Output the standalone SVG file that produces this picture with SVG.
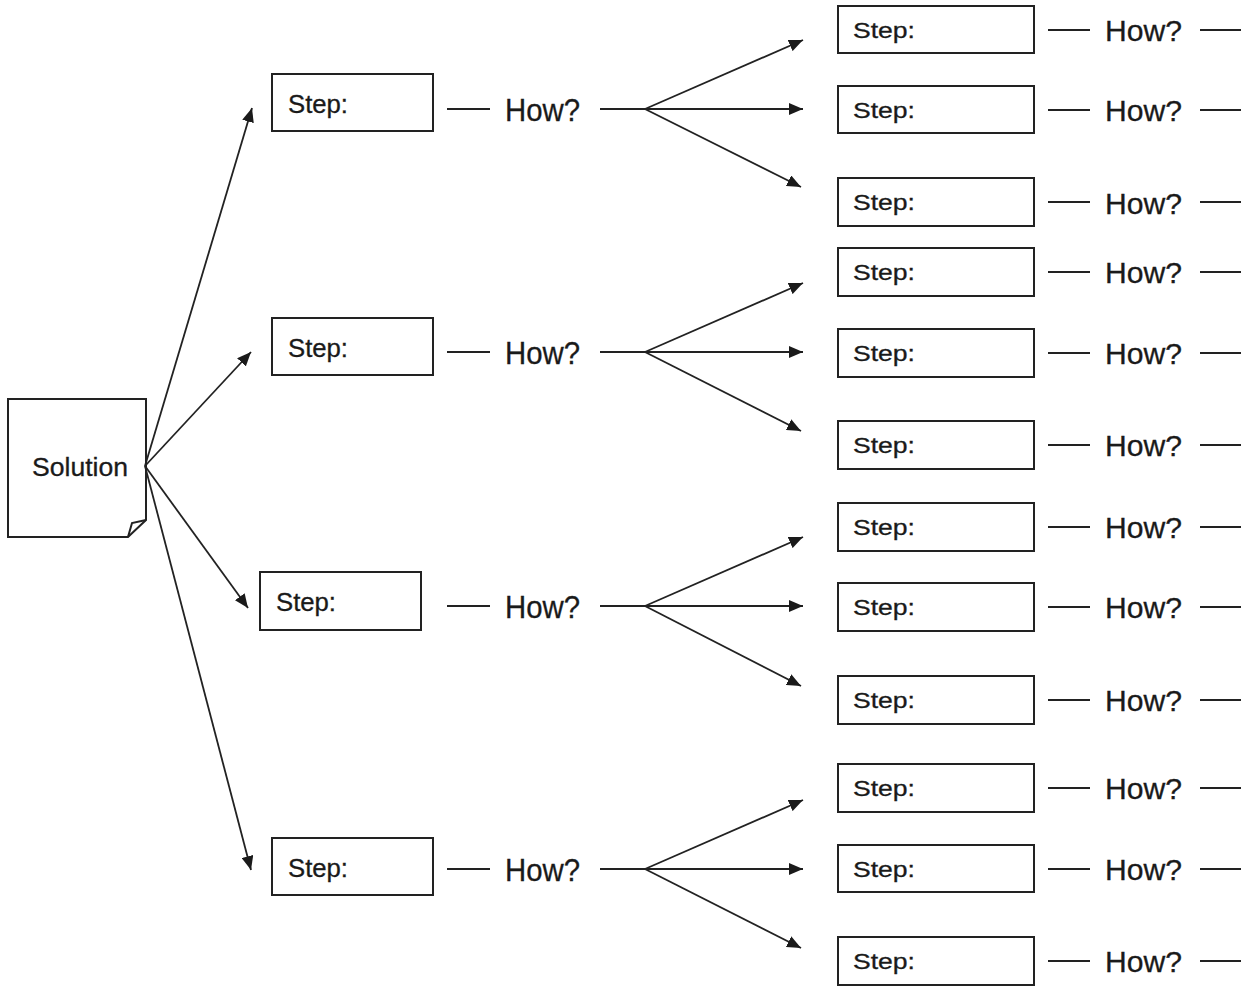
<svg xmlns="http://www.w3.org/2000/svg" width="1245" height="987" viewBox="0 0 1245 987">
<defs>
<style>
.box{fill:#fff;stroke:#222;stroke-width:2}
.ln{stroke:#222;stroke-width:2;fill:none}
.ar{stroke:#222;stroke-width:1.8;fill:none;marker-end:url(#ah)}
.s1{font-family:"Liberation Sans",Arial,sans-serif;font-size:25px;fill:#1a1a1a;stroke:#1a1a1a;stroke-width:0.3}
.s2{font-family:"Liberation Sans",Arial,sans-serif;font-size:22px;fill:#1a1a1a;stroke:#1a1a1a;stroke-width:0.3}
.hw{font-family:"Liberation Sans",Arial,sans-serif;font-size:30px;fill:#1a1a1a;stroke:#1a1a1a;stroke-width:0.3}
.hw1{font-family:"Liberation Sans",Arial,sans-serif;font-size:32px;fill:#1a1a1a;stroke:#1a1a1a;stroke-width:0.3}
.sol{font-family:"Liberation Sans",Arial,sans-serif;font-size:25px;fill:#1a1a1a;stroke:#1a1a1a;stroke-width:0.3}
</style>
<marker id="ah" markerUnits="userSpaceOnUse" markerWidth="14" markerHeight="12" refX="14" refY="6" orient="auto">
<path d="M0,0 L14,6 L0,12 z" fill="#1a1a1a"/>
</marker>
</defs>
<rect width="1245" height="987" fill="#fff"/>

<g id="solution">
<path class="box" d="M8,399 H146 V520 L128,537 H8 Z"/>
<path class="ln" d="M146,520 L132,523 L128,537" stroke-width="1.5"/>
<text class="sol" x="80" y="476" text-anchor="middle" textLength="96" lengthAdjust="spacingAndGlyphs">Solution</text>
</g>

<g id="step1"><rect class="box" x="272" y="74" width="161" height="57"/><text class="s1" x="288" y="113" textLength="60" lengthAdjust="spacingAndGlyphs">Step:</text><text class="hw1" x="505" y="121" textLength="75" lengthAdjust="spacingAndGlyphs">How?</text></g>
<g id="step2"><rect class="box" x="272" y="318" width="161" height="57"/><text class="s1" x="288" y="357" textLength="60" lengthAdjust="spacingAndGlyphs">Step:</text><text class="hw1" x="505" y="364" textLength="75" lengthAdjust="spacingAndGlyphs">How?</text></g>
<g id="step3"><rect class="box" x="260" y="572" width="161" height="58"/><text class="s1" x="276" y="611" textLength="60" lengthAdjust="spacingAndGlyphs">Step:</text><text class="hw1" x="505" y="618" textLength="75" lengthAdjust="spacingAndGlyphs">How?</text></g>
<g id="step4"><rect class="box" x="272" y="838" width="161" height="57"/><text class="s1" x="288" y="877" textLength="60" lengthAdjust="spacingAndGlyphs">Step:</text><text class="hw1" x="505" y="881" textLength="75" lengthAdjust="spacingAndGlyphs">How?</text></g>

<g id="sub1a"><rect class="box" x="838" y="6" width="196" height="47"/><text class="s2" x="853" y="38" textLength="62" lengthAdjust="spacingAndGlyphs">Step:</text><text class="hw" x="1105" y="41" textLength="77" lengthAdjust="spacingAndGlyphs">How?</text></g>
<g id="sub1b"><rect class="box" x="838" y="86" width="196" height="47"/><text class="s2" x="853" y="118" textLength="62" lengthAdjust="spacingAndGlyphs">Step:</text><text class="hw" x="1105" y="121" textLength="77" lengthAdjust="spacingAndGlyphs">How?</text></g>
<g id="sub1c"><rect class="box" x="838" y="178" width="196" height="48"/><text class="s2" x="853" y="210" textLength="62" lengthAdjust="spacingAndGlyphs">Step:</text><text class="hw" x="1105" y="214" textLength="77" lengthAdjust="spacingAndGlyphs">How?</text></g>
<g id="sub2a"><rect class="box" x="838" y="248" width="196" height="48"/><text class="s2" x="853" y="280" textLength="62" lengthAdjust="spacingAndGlyphs">Step:</text><text class="hw" x="1105" y="283" textLength="77" lengthAdjust="spacingAndGlyphs">How?</text></g>
<g id="sub2b"><rect class="box" x="838" y="329" width="196" height="48"/><text class="s2" x="853" y="361" textLength="62" lengthAdjust="spacingAndGlyphs">Step:</text><text class="hw" x="1105" y="364" textLength="77" lengthAdjust="spacingAndGlyphs">How?</text></g>
<g id="sub2c"><rect class="box" x="838" y="421" width="196" height="48"/><text class="s2" x="853" y="453" textLength="62" lengthAdjust="spacingAndGlyphs">Step:</text><text class="hw" x="1105" y="456" textLength="77" lengthAdjust="spacingAndGlyphs">How?</text></g>
<g id="sub3a"><rect class="box" x="838" y="503" width="196" height="48"/><text class="s2" x="853" y="535" textLength="62" lengthAdjust="spacingAndGlyphs">Step:</text><text class="hw" x="1105" y="538" textLength="77" lengthAdjust="spacingAndGlyphs">How?</text></g>
<g id="sub3b"><rect class="box" x="838" y="583" width="196" height="48"/><text class="s2" x="853" y="615" textLength="62" lengthAdjust="spacingAndGlyphs">Step:</text><text class="hw" x="1105" y="618" textLength="77" lengthAdjust="spacingAndGlyphs">How?</text></g>
<g id="sub3c"><rect class="box" x="838" y="676" width="196" height="48"/><text class="s2" x="853" y="708" textLength="62" lengthAdjust="spacingAndGlyphs">Step:</text><text class="hw" x="1105" y="711" textLength="77" lengthAdjust="spacingAndGlyphs">How?</text></g>
<g id="sub4a"><rect class="box" x="838" y="764" width="196" height="48"/><text class="s2" x="853" y="796" textLength="62" lengthAdjust="spacingAndGlyphs">Step:</text><text class="hw" x="1105" y="799" textLength="77" lengthAdjust="spacingAndGlyphs">How?</text></g>
<g id="sub4b"><rect class="box" x="838" y="845" width="196" height="47"/><text class="s2" x="853" y="877" textLength="62" lengthAdjust="spacingAndGlyphs">Step:</text><text class="hw" x="1105" y="880" textLength="77" lengthAdjust="spacingAndGlyphs">How?</text></g>
<g id="sub4c"><rect class="box" x="838" y="937" width="196" height="48"/><text class="s2" x="853" y="969" textLength="62" lengthAdjust="spacingAndGlyphs">Step:</text><text class="hw" x="1105" y="972" textLength="77" lengthAdjust="spacingAndGlyphs">How?</text></g>

<g id="connectors">
<path class="ar" d="M145,466 L252,108"/>
<path class="ar" d="M145,466 L251,352"/>
<path class="ar" d="M145,466 L248,608"/>
<path class="ar" d="M145,466 L251,870"/>

<path class="ln" d="M447,109 H490 M600,109 H645"/>
<path class="ar" d="M645,109 L803,40"/><path class="ar" d="M645,109 H803"/><path class="ar" d="M645,109 L801,187"/>
<path class="ln" d="M447,352 H490 M600,352 H645"/>
<path class="ar" d="M645,352 L803,283"/><path class="ar" d="M645,352 H803"/><path class="ar" d="M645,352 L801,431"/>
<path class="ln" d="M447,606 H490 M600,606 H645"/>
<path class="ar" d="M645,606 L803,537"/><path class="ar" d="M645,606 H803"/><path class="ar" d="M645,606 L801,686"/>
<path class="ln" d="M447,869 H490 M600,869 H645"/>
<path class="ar" d="M645,869 L803,800"/><path class="ar" d="M645,869 H803"/><path class="ar" d="M645,869 L801,948"/>

<path class="ln" d="M1048,30 H1090 M1200,30 H1241"/>
<path class="ln" d="M1048,110 H1090 M1200,110 H1241"/>
<path class="ln" d="M1048,202 H1090 M1200,202 H1241"/>
<path class="ln" d="M1048,272 H1090 M1200,272 H1241"/>
<path class="ln" d="M1048,353 H1090 M1200,353 H1241"/>
<path class="ln" d="M1048,445 H1090 M1200,445 H1241"/>
<path class="ln" d="M1048,527 H1090 M1200,527 H1241"/>
<path class="ln" d="M1048,607 H1090 M1200,607 H1241"/>
<path class="ln" d="M1048,700 H1090 M1200,700 H1241"/>
<path class="ln" d="M1048,788 H1090 M1200,788 H1241"/>
<path class="ln" d="M1048,869 H1090 M1200,869 H1241"/>
<path class="ln" d="M1048,961 H1090 M1200,961 H1241"/>
</g>
</svg>
